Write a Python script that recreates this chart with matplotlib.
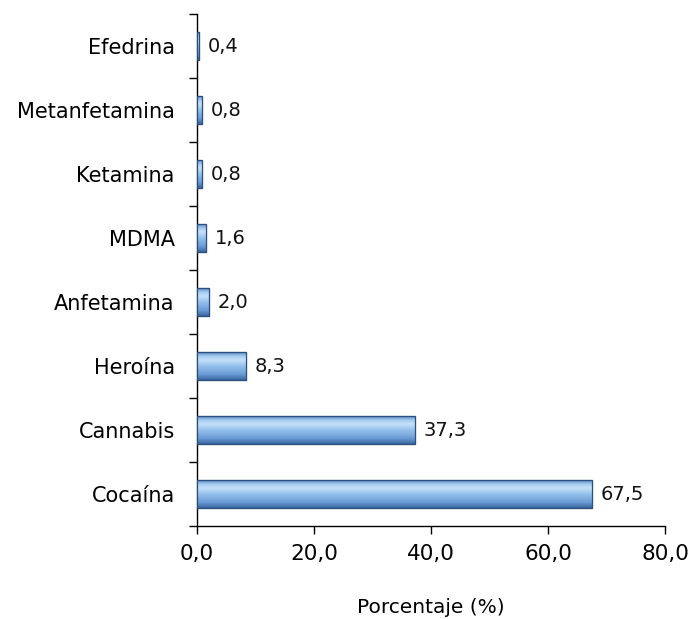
import matplotlib
matplotlib.use('Agg')
import matplotlib.pyplot as plt
from matplotlib.colors import LinearSegmentedColormap
import numpy as np

# datos
categorias = ['Cocaína', 'Cannabis', 'Heroína', 'Anfetamina', 'MDMA',
              'Ketamina', 'Metanfetamina', 'Efedrina']
valores = [67.5, 37.3, 8.3, 2.0, 1.6, 0.8, 0.8, 0.4]
ticks_x = [0, 20, 40, 60, 80]

plt.rcParams['font.family'] = ['DejaVu Sans']

fig = plt.figure(figsize=(6.92, 6.19), dpi=100)
ax = fig.add_axes([0.2847, 0.150, 0.6763, 0.827])

y = np.arange(len(categorias))
alto = 0.43

# degradado tipo Excel (bisel)
cmap = LinearSegmentedColormap.from_list('bisel', [
    (0.0, '#3a679f'), (0.2, '#6b9bd5'), (0.5, '#95c1ec'),
    (0.72, '#c6e2fa'), (0.86, '#a4cbf0'), (1.0, '#5f8cc5')])
grad = np.linspace(0, 1, 64).reshape(-1, 1)

bars = ax.barh(y, valores, height=alto, color='#7fb0e6',
               edgecolor='#2d4f7e', linewidth=0.8, zorder=2)
for b in bars:
    x0, y0 = b.get_x(), b.get_y()
    w, h = b.get_width(), b.get_height()
    im = ax.imshow(grad, cmap=cmap, aspect='auto', origin='lower',
                   extent=[x0, x0 + w, y0, y0 + h], zorder=3)
    im.set_clip_path(b)
    ax.add_patch(plt.Rectangle((x0, y0), w, h, fill=False,
                               edgecolor='#2d4f7e', linewidth=0.9, zorder=4))

for yi, v in zip(y, valores):
    ax.text(v + 1.5, yi, f'{v:.1f}'.replace('.', ','), va='center', ha='left',
            fontsize=14, color='#111111')

ax.set_xlim(0, 80)
ax.set_ylim(-0.5, len(categorias) - 0.5)
ax.set_xticks(ticks_x)
ax.set_xticklabels([f'{t:.1f}'.replace('.', ',') for t in ticks_x], fontsize=15.5)
ax.set_yticks(y)
ax.set_yticklabels(categorias, fontsize=15)
ax.set_yticks(np.arange(-0.5, len(categorias), 1.0), minor=True)
ax.tick_params(axis='y', which='major', length=0, pad=16)
ax.tick_params(axis='y', which='minor', length=6, width=1, direction='out')
ax.tick_params(axis='x', length=6, width=1, direction='out', pad=7)

for s in ['top', 'right']:
    ax.spines[s].set_visible(False)
ax.spines['left'].set_linewidth(1)
ax.spines['bottom'].set_linewidth(1)

ax.set_xlabel('Porcentaje (%)', fontsize=14.5, labelpad=24)

fig.savefig('out.png', dpi=100, facecolor='white')
